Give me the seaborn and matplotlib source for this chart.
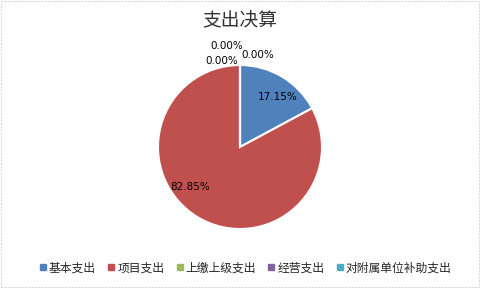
import matplotlib
matplotlib.use("Agg")
import matplotlib.pyplot as plt
import seaborn as sns
import numpy as np
from matplotlib.lines import Line2D
from matplotlib.patches import Rectangle

categories = ["基本支出", "项目支出", "上缴上级支出", "经营支出", "对附属单位补助支出"]
values = [17.15, 82.85, 0.0, 0.0, 0.0]
labels = ["17.15%", "82.85%", "0.00%", "0.00%", "0.00%"]
colors = ["#4F81BD", "#C0504D", "#9BBB59", "#8064A2", "#4BACC6"]
title = "支出决算"

sns.set_theme(style="white")
plt.rcParams['font.family'] = ['Noto Sans CJK SC', 'DejaVu Sans']

fig = plt.figure(figsize=(4.8, 2.88), dpi=100)
fig.patch.set_facecolor("white")
fig.patches.append(Rectangle((0.002, 0.003), 0.996, 0.994, transform=fig.transFigure,
                             fill=False, edgecolor="#D9D9D9", linewidth=0.8, linestyle=(0, (2, 1))))

ax = fig.add_axes([158/480, (288-147-82)/288, 164/480, 164/288])
wedges, _ = ax.pie(values, colors=colors, startangle=90, counterclock=False,
                   radius=1.0, wedgeprops=dict(edgecolor="white", linewidth=1.5))
ax.set_xlim(-1, 1)
ax.set_ylim(-1, 1)
ax.set_aspect("equal")
ax.axis("off")

# label positions relative to the pie (unit radius)
label_pos = [(0.46, 0.61), (-0.61, -0.49), (0.22, 1.12), (-0.22, 1.05), (-0.16, 1.23)]
for lab, (x, y) in zip(labels, label_pos):
    ax.text(x, y, lab, ha="center", va="center", fontsize=7.5, color="black",
            family=['DejaVu Sans'], clip_on=False)

fig.text(0.5, 1 - 21/288, title, ha="center", va="center", fontsize=13.5,
         color="#333333", fontweight="light")

handles = [Line2D([0], [0], marker="s", linestyle="none", markersize=4.5,
                  markerfacecolor=c, markeredgecolor=c) for c in colors]
fig.legend(handles, categories, loc="center", bbox_to_anchor=(0.51, 1 - 268/288),
           ncol=5, frameon=False, fontsize=8.5, handletextpad=0.1,
           columnspacing=0.9, handlelength=0.8)

fig.savefig("out.png", dpi=100, facecolor="white")
